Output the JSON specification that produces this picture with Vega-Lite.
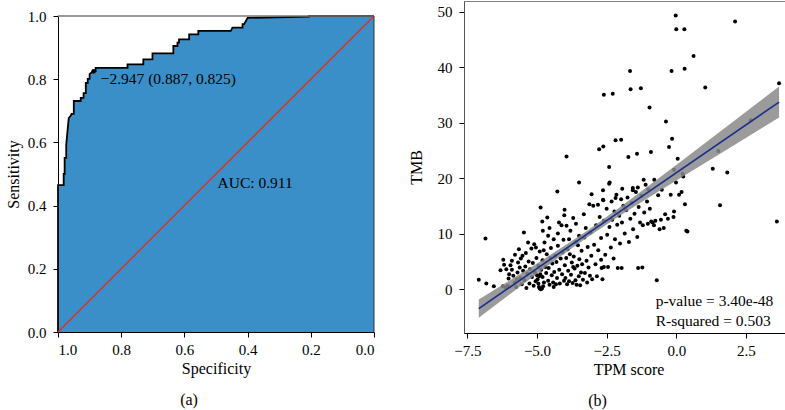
{
  "$schema": "https://vega.github.io/schema/vega-lite/v6.json",
  "background": "white",
  "padding": {"left": 5, "top": 0, "right": 1, "bottom": 0},
  "spacing": 90,
  "bounds": "flush",
  "config": {
    "font": "Liberation Serif",
    "view": {"stroke": null},
    "axis": {"labelFont": "Liberation Serif", "titleFont": "Liberation Serif", "labelFontSize": 15, "titleFontSize": 16, "titleFontWeight": "normal", "labelColor": "#000", "titleColor": "#000", "tickColor": "#000", "domainColor": "#000", "grid": false, "tickSize": 5, "labelPadding": 6},
    "title": {"font": "Liberation Serif", "fontSize": 16, "fontWeight": "normal", "color": "#000"}
  },
  "datasets": {
    "roc": [
      {"i": 0, "spec": 1.0, "sens": 0.0}, {"i": 1, "spec": 1.0, "sens": 0.465}, {"i": 2, "spec": 0.982, "sens": 0.465}, {"i": 3, "spec": 0.982, "sens": 0.5}, {"i": 4, "spec": 0.979, "sens": 0.5}, {"i": 5, "spec": 0.979, "sens": 0.551}, {"i": 6, "spec": 0.974, "sens": 0.551}, {"i": 7, "spec": 0.974, "sens": 0.592}, {"i": 8, "spec": 0.972, "sens": 0.614}, {"i": 9, "spec": 0.969, "sens": 0.646}, {"i": 10, "spec": 0.966, "sens": 0.677}, {"i": 11, "spec": 0.96, "sens": 0.684}, {"i": 12, "spec": 0.957, "sens": 0.69}, {"i": 13, "spec": 0.95, "sens": 0.69}, {"i": 14, "spec": 0.95, "sens": 0.731}, {"i": 15, "spec": 0.928, "sens": 0.731}, {"i": 16, "spec": 0.928, "sens": 0.741}, {"i": 17, "spec": 0.919, "sens": 0.741}, {"i": 18, "spec": 0.919, "sens": 0.756}, {"i": 19, "spec": 0.912, "sens": 0.756}, {"i": 20, "spec": 0.912, "sens": 0.788}, {"i": 21, "spec": 0.906, "sens": 0.788}, {"i": 22, "spec": 0.906, "sens": 0.801}, {"i": 23, "spec": 0.9, "sens": 0.801}, {"i": 24, "spec": 0.9, "sens": 0.816}, {"i": 25, "spec": 0.888, "sens": 0.826}, {"i": 26, "spec": 0.881, "sens": 0.826}, {"i": 27, "spec": 0.881, "sens": 0.836}, {"i": 28, "spec": 0.78, "sens": 0.836}, {"i": 29, "spec": 0.78, "sens": 0.847}, {"i": 30, "spec": 0.73, "sens": 0.847}, {"i": 31, "spec": 0.73, "sens": 0.863}, {"i": 32, "spec": 0.701, "sens": 0.863}, {"i": 33, "spec": 0.701, "sens": 0.882}, {"i": 34, "spec": 0.635, "sens": 0.882}, {"i": 35, "spec": 0.635, "sens": 0.905}, {"i": 36, "spec": 0.622, "sens": 0.905}, {"i": 37, "spec": 0.622, "sens": 0.916}, {"i": 38, "spec": 0.617, "sens": 0.916}, {"i": 39, "spec": 0.617, "sens": 0.926}, {"i": 40, "spec": 0.585, "sens": 0.926}, {"i": 41, "spec": 0.585, "sens": 0.942}, {"i": 42, "spec": 0.556, "sens": 0.942}, {"i": 43, "spec": 0.556, "sens": 0.953}, {"i": 44, "spec": 0.453, "sens": 0.953}, {"i": 45, "spec": 0.448, "sens": 0.963}, {"i": 46, "spec": 0.416, "sens": 0.963}, {"i": 47, "spec": 0.416, "sens": 0.974}, {"i": 48, "spec": 0.411, "sens": 0.974}, {"i": 49, "spec": 0.4, "sens": 0.994}, {"i": 50, "spec": 0.206, "sens": 0.998}, {"i": 51, "spec": 0.206, "sens": 1.0}, {"i": 52, "spec": 0.0, "sens": 1.0}
    ],
    "pts": [
      {"x": -7.09, "y": 1.7}, {"x": -6.85, "y": 9.1}, {"x": -6.82, "y": 1.0}, {"x": -6.55, "y": 0.5}, {"x": -6.31, "y": 3.4}, {"x": -6.21, "y": 5.3}, {"x": -6.18, "y": 4.4}, {"x": -6.22, "y": 0.5}, {"x": -6.13, "y": 0.3}, {"x": -6.05, "y": 0.6}, {"x": -6.0, "y": 2.7}, {"x": -6.1, "y": 3.6}, {"x": -6.02, "y": 1.9},
      {"x": -5.95, "y": 4.3}, {"x": -5.79, "y": 6.2}, {"x": -5.65, "y": 7.2}, {"x": -5.47, "y": 10.2}, {"x": -5.32, "y": 8.4}, {"x": -5.9, "y": 3.5}, {"x": -5.85, "y": 2.4}, {"x": -5.8, "y": 1.2}, {"x": -5.75, "y": 0.4}, {"x": -5.7, "y": 3.0}, {"x": -5.68, "y": 4.8}, {"x": -5.6, "y": 2.0}, {"x": -5.58, "y": 5.5}, {"x": -5.55, "y": 0.9}, {"x": -5.5, "y": 3.3}, {"x": -5.45, "y": 1.6}, {"x": -5.42, "y": 4.1}, {"x": -5.4, "y": 6.5}, {"x": -5.38, "y": 0.2}, {"x": -5.35, "y": 2.8}, {"x": -5.3, "y": 5.0}, {"x": -5.27, "y": 1.0}, {"x": -5.25, "y": 3.6}, {"x": -5.2, "y": 7.3}, {"x": -5.18, "y": 2.2}, {"x": -5.15, "y": 4.7}, {"x": -5.12, "y": 0.6}, {"x": -5.1, "y": 8.1}, {"x": -5.08, "y": 3.0}, {"x": -5.05, "y": 1.4}, {"x": -5.04, "y": 7.5}, {"x": -5.02, "y": 5.6}, {"x": -5.0, "y": 2.5}, {"x": -5.9, "y": 5.1}, {"x": -5.62, "y": 3.9}, {"x": -5.52, "y": 6.0}, {"x": -5.72, "y": 1.8},
      {"x": -4.98, "y": 1.8}, {"x": -4.95, "y": 1.0}, {"x": -4.93, "y": 0.4}, {"x": -4.9, "y": 0.1}, {"x": -4.86, "y": 0.0}, {"x": -4.82, "y": 0.1}, {"x": -4.78, "y": 0.5}, {"x": -4.75, "y": 1.2}, {"x": -4.92, "y": 2.3}, {"x": -4.88, "y": 2.7}, {"x": -4.8, "y": 2.2},
      {"x": -4.87, "y": 14.7}, {"x": -4.81, "y": 12.2}, {"x": -4.79, "y": 10.5}, {"x": -4.63, "y": 12.9}, {"x": -4.73, "y": 8.4}, {"x": -4.95, "y": 4.2}, {"x": -4.9, "y": 6.8}, {"x": -4.85, "y": 3.5}, {"x": -4.8, "y": 5.2}, {"x": -4.76, "y": 7.0}, {"x": -4.7, "y": 4.0}, {"x": -4.67, "y": 2.9}, {"x": -4.65, "y": 6.3}, {"x": -4.6, "y": 1.5}, {"x": -4.58, "y": 3.8}, {"x": -4.55, "y": 0.8}, {"x": -4.52, "y": 5.6}, {"x": -4.5, "y": 7.4}, {"x": -4.47, "y": 2.5}, {"x": -4.45, "y": 4.6}, {"x": -4.42, "y": 1.2}, {"x": -4.4, "y": 9.0}, {"x": -4.38, "y": 3.1}, {"x": -4.35, "y": 6.0}, {"x": -4.32, "y": 0.9}, {"x": -4.3, "y": 4.9}, {"x": -4.28, "y": 2.0}, {"x": -4.27, "y": 17.6}, {"x": -4.25, "y": 7.8}, {"x": -4.21, "y": 12.0}, {"x": -4.2, "y": 3.5}, {"x": -4.18, "y": 1.0}, {"x": -4.15, "y": 5.5}, {"x": -4.12, "y": 11.5}, {"x": -4.1, "y": 2.7}, {"x": -4.08, "y": 6.6}, {"x": -4.05, "y": 8.9}, {"x": -4.03, "y": 1.5}, {"x": -4.01, "y": 14.3}, {"x": -4.02, "y": 13.3}, {"x": -4.0, "y": 4.3}, {"x": -4.6, "y": 9.6}, {"x": -4.4, "y": 0.4}, {"x": -4.55, "y": 11.0}, {"x": -4.25, "y": 10.0},
      {"x": -3.94, "y": 11.4}, {"x": -3.94, "y": 23.9}, {"x": -3.53, "y": 7.9}, {"x": -3.49, "y": 9.6}, {"x": -3.49, "y": 19.2}, {"x": -3.98, "y": 2.0}, {"x": -3.95, "y": 5.6}, {"x": -3.92, "y": 0.9}, {"x": -3.9, "y": 7.2}, {"x": -3.88, "y": 3.3}, {"x": -3.85, "y": 1.4}, {"x": -3.82, "y": 6.3}, {"x": -3.8, "y": 10.5}, {"x": -3.78, "y": 2.6}, {"x": -3.75, "y": 4.8}, {"x": -3.72, "y": 1.1}, {"x": -3.7, "y": 12.8}, {"x": -3.68, "y": 5.9}, {"x": -3.65, "y": 3.7}, {"x": -3.62, "y": 1.6}, {"x": -3.6, "y": 8.5}, {"x": -3.58, "y": 0.8}, {"x": -3.55, "y": 4.2}, {"x": -3.5, "y": 2.3}, {"x": -3.48, "y": 5.4}, {"x": -3.45, "y": 0.7}, {"x": -3.42, "y": 3.0}, {"x": -3.4, "y": 6.9}, {"x": -3.38, "y": 4.5}, {"x": -3.35, "y": 1.7}, {"x": -3.32, "y": 13.5}, {"x": -3.3, "y": 9.3}, {"x": -3.28, "y": 2.9}, {"x": -3.25, "y": 11.0}, {"x": -3.22, "y": 5.1}, {"x": -3.2, "y": 1.2}, {"x": -3.18, "y": 7.6}, {"x": -3.15, "y": 3.9}, {"x": -3.12, "y": 15.3}, {"x": -3.1, "y": 2.4}, {"x": -3.08, "y": 10.2}, {"x": -3.05, "y": 6.0}, {"x": -3.04, "y": 17.1}, {"x": -3.02, "y": 1.8}, {"x": -3.7, "y": 4.0}, {"x": -3.6, "y": 11.8}, {"x": -3.85, "y": 9.0},
      {"x": -2.98, "y": 15.0}, {"x": -2.81, "y": 15.2}, {"x": -2.77, "y": 25.2}, {"x": -2.62, "y": 25.7}, {"x": -2.6, "y": 35.0}, {"x": -2.28, "y": 35.2}, {"x": -2.41, "y": 22.0}, {"x": -2.41, "y": 19.0}, {"x": -2.63, "y": 17.8}, {"x": -2.18, "y": 26.8}, {"x": -2.62, "y": 16.0}, {"x": -2.39, "y": 19.2}, {"x": -2.18, "y": 16.4}, {"x": -2.63, "y": 16.1}, {"x": -2.95, "y": 8.0}, {"x": -2.9, "y": 4.5}, {"x": -2.88, "y": 11.5}, {"x": -2.85, "y": 2.3}, {"x": -2.8, "y": 7.0}, {"x": -2.75, "y": 13.0}, {"x": -2.7, "y": 9.2}, {"x": -2.68, "y": 3.8}, {"x": -2.65, "y": 1.8}, {"x": -2.6, "y": 12.3}, {"x": -2.55, "y": 6.2}, {"x": -2.5, "y": 14.5}, {"x": -2.48, "y": 9.8}, {"x": -2.45, "y": 4.0}, {"x": -2.4, "y": 11.2}, {"x": -2.35, "y": 7.5}, {"x": -2.32, "y": 15.8}, {"x": -2.3, "y": 12.5}, {"x": -2.25, "y": 5.5}, {"x": -2.22, "y": 14.0}, {"x": -2.2, "y": 9.0}, {"x": -2.15, "y": 17.0}, {"x": -2.12, "y": 11.6}, {"x": -2.1, "y": 3.8}, {"x": -2.05, "y": 13.2}, {"x": -2.02, "y": 8.2}, {"x": -2.6, "y": 4.0}, {"x": -2.7, "y": 5.3},
      {"x": -1.98, "y": 26.9}, {"x": -1.66, "y": 39.3}, {"x": -1.64, "y": 36.0}, {"x": -1.27, "y": 36.2}, {"x": -1.72, "y": 23.8}, {"x": -1.41, "y": 24.4}, {"x": -1.94, "y": 18.1}, {"x": -1.56, "y": 18.2}, {"x": -1.56, "y": 17.8}, {"x": -1.38, "y": 18.3}, {"x": -1.17, "y": 19.7}, {"x": -1.98, "y": 16.2}, {"x": -1.96, "y": 3.8}, {"x": -1.95, "y": 12.0}, {"x": -1.9, "y": 15.0}, {"x": -1.85, "y": 10.0}, {"x": -1.8, "y": 14.2}, {"x": -1.75, "y": 16.5}, {"x": -1.7, "y": 8.5}, {"x": -1.65, "y": 12.7}, {"x": -1.6, "y": 15.5}, {"x": -1.55, "y": 10.8}, {"x": -1.5, "y": 13.6}, {"x": -1.45, "y": 17.5}, {"x": -1.4, "y": 9.4}, {"x": -1.35, "y": 14.8}, {"x": -1.3, "y": 12.0}, {"x": -1.25, "y": 16.8}, {"x": -1.22, "y": 3.9}, {"x": -1.37, "y": 3.8}, {"x": -1.2, "y": 11.5}, {"x": -1.15, "y": 13.8}, {"x": -1.1, "y": 18.8}, {"x": -1.05, "y": 15.8}, {"x": -1.02, "y": 11.8},
      {"x": -0.96, "y": 32.7}, {"x": -0.91, "y": 24.7}, {"x": -0.79, "y": 19.7}, {"x": -1.01, "y": 18.0}, {"x": -0.52, "y": 17.9}, {"x": -0.37, "y": 30.2}, {"x": -0.26, "y": 25.6}, {"x": -0.15, "y": 27.1}, {"x": -0.17, "y": 39.3}, {"x": -0.02, "y": 49.3}, {"x": 0.0, "y": 46.8}, {"x": 0.29, "y": 46.8}, {"x": 0.62, "y": 42.0}, {"x": 0.3, "y": 39.7}, {"x": 0.05, "y": 23.5}, {"x": -0.08, "y": 21.5}, {"x": -0.01, "y": 19.2}, {"x": 0.23, "y": 20.8}, {"x": 0.25, "y": 20.3}, {"x": 0.19, "y": 17.5}, {"x": -0.2, "y": 17.0}, {"x": -0.65, "y": 16.9}, {"x": -0.7, "y": 1.6}, {"x": 0.4, "y": 10.4}, {"x": -0.08, "y": 14.0}, {"x": 0.31, "y": 15.3}, {"x": -0.9, "y": 12.2}, {"x": -0.85, "y": 12.0}, {"x": -0.8, "y": 11.5}, {"x": -0.75, "y": 12.3}, {"x": -0.6, "y": 10.8}, {"x": -0.55, "y": 12.5}, {"x": -0.45, "y": 11.0}, {"x": -0.4, "y": 13.5}, {"x": -0.3, "y": 12.7}, {"x": -0.95, "y": 14.5}, {"x": -0.1, "y": 13.0}, {"x": 0.1, "y": 17.0},
      {"x": 1.04, "y": 36.3}, {"x": 1.31, "y": 21.7}, {"x": 1.51, "y": 24.9}, {"x": 1.83, "y": 21.0}, {"x": 2.11, "y": 48.2}, {"x": 2.67, "y": 30.4}, {"x": 3.69, "y": 37.1}, {"x": 3.61, "y": 12.2}, {"x": 1.57, "y": 15.1}, {"x": 0.36, "y": 10.5}
    ],
    "band": [
      {"x": -7.09, "lo": -5.15, "hi": -1.85}, {"x": -6.0, "lo": -1.0, "hi": 1.52}, {"x": -5.0, "lo": 2.78, "hi": 4.64}, {"x": -4.0, "lo": 6.48, "hi": 7.84}, {"x": -3.2, "lo": 9.32, "hi": 10.52}, {"x": -2.0, "lo": 13.29, "hi": 14.83}, {"x": -1.0, "lo": 16.45, "hi": 18.57}, {"x": 0.0, "lo": 19.55, "hi": 22.37}, {"x": 1.0, "lo": 22.64, "hi": 26.18}, {"x": 2.0, "lo": 25.71, "hi": 30.01}, {"x": 3.69, "lo": 30.9, "hi": 36.5}
    ],
    "fit": [{"x": -7.09, "y": -3.5}, {"x": 3.69, "y": 33.7}],
    "stats": [{"x": -0.74, "y": -2.1, "t": "p-value = 3.40e-48"}, {"x": -0.74, "y": -5.7, "t": "R-squared = 0.503"}]
  },
  "hconcat": [
    {
      "width": 316,
      "height": 331,
      "title": {"text": "(a)", "orient": "bottom", "anchor": "middle", "dx": -27, "offset": 16},
      "layer": [
        {
          "data": {"name": "roc"},
          "mark": {"type": "area", "fill": "#3b8fc8", "fillOpacity": 1, "stroke": null},
          "encoding": {
            "x": {"field": "spec", "type": "quantitative", "scale": {"domain": [0, 1], "reverse": true, "nice": false, "zero": false},
              "axis": {"title": "Specificity", "values": [1, 0.8, 0.6, 0.4, 0.2, 0], "format": ".1f", "labelPadding": 5, "titlePadding": 3}},
            "y": {"field": "sens", "type": "quantitative", "scale": {"domain": [0, 1], "range": [331, 15], "nice": false, "zero": false},
              "axis": {"title": "Sensitivity", "values": [0, 0.2, 0.4, 0.6, 0.8, 1], "format": ".1f", "labelPadding": 7, "titleX": -45, "titleBaseline": "middle", "titleAngle": 270}},
            "y2": {"datum": 0},
            "order": {"value": null}
          }
        },
        {
          "data": {"name": "roc"},
          "mark": {"type": "line", "stroke": "#000", "strokeWidth": 1.8},
          "encoding": {
            "x": {"field": "spec", "type": "quantitative"},
            "y": {"field": "sens", "type": "quantitative"},
            "order": {"field": "i", "type": "quantitative"}
          }
        },
        {
          "data": {"values": [{}]},
          "mark": {"type": "rule", "stroke": "#f0281a", "strokeWidth": 1.3},
          "encoding": {"x": {"datum": 1}, "y": {"datum": 0}, "x2": {"datum": 0}, "y2": {"datum": 1}}
        },
        {
          "data": {"values": [{}]},
          "mark": {"type": "rule", "stroke": "#777", "strokeWidth": 1.5},
          "encoding": {"x": {"datum": 1}, "x2": {"datum": 0}, "y": {"datum": 1}}
        },
        {
          "data": {"values": [{}]},
          "mark": {"type": "rule", "stroke": "#333", "strokeWidth": 1},
          "encoding": {"x": {"datum": 0}, "y": {"datum": 0}, "y2": {"datum": 1}}
        },
        {
          "data": {"values": [{"spec": 0.887, "sens": 0.825}]},
          "mark": {"type": "point", "filled": true, "color": "#000", "size": 22, "opacity": 1},
          "encoding": {"x": {"field": "spec", "type": "quantitative"}, "y": {"field": "sens", "type": "quantitative"}}
        },
        {
          "data": {"values": [{"spec": 0.865, "sens": 0.8, "t": "\u22122.947 (0.887, 0.825)"}, {"spec": 0.495, "sens": 0.472, "t": "AUC: 0.911"}]},
          "mark": {"type": "text", "align": "left", "baseline": "middle", "font": "Liberation Serif", "fontSize": 15.5, "color": "#000"},
          "encoding": {"x": {"field": "spec", "type": "quantitative"}, "y": {"field": "sens", "type": "quantitative"}, "text": {"field": "t"}}
        }
      ]
    },
    {
      "width": 329,
      "height": 332,
      "view": {"stroke": "#808080", "strokeWidth": 1},
      "title": {"text": "(b)", "orient": "bottom", "anchor": "middle", "dx": -31, "offset": 16},
      "layer": [
        {
          "data": {"name": "pts"},
          "mark": {"type": "circle", "color": "#000", "size": 16, "opacity": 1},
          "encoding": {
            "x": {"field": "x", "type": "quantitative", "scale": {"domain": [-7.62, 4.19], "nice": false, "zero": false},
              "axis": {"title": "TPM score", "values": [-7.5, -5, -2.5, 0, 2.5], "format": ".1f", "labelPadding": 5, "titlePadding": 3}},
            "y": {"field": "y", "type": "quantitative", "scale": {"domain": [-7.9, 51.9], "nice": false, "zero": false},
              "axis": {"title": "TMB", "values": [0, 10, 20, 30, 40, 50], "format": "d", "labelPadding": 7, "titleX": -48, "titleBaseline": "middle", "titleAngle": 270, "domainColor": "#555"}}
          }
        },
        {
          "data": {"name": "band"},
          "mark": {"type": "area", "fill": "#8a8a8a", "fillOpacity": 0.85, "stroke": null},
          "encoding": {
            "x": {"field": "x", "type": "quantitative"},
            "y": {"field": "lo", "type": "quantitative"},
            "y2": {"field": "hi"}
          }
        },
        {
          "data": {"name": "fit"},
          "mark": {"type": "line", "stroke": "#17308c", "strokeWidth": 1.6},
          "encoding": {
            "x": {"field": "x", "type": "quantitative"},
            "y": {"field": "y", "type": "quantitative"}
          }
        },
        {
          "data": {"name": "stats"},
          "mark": {"type": "text", "align": "left", "baseline": "middle", "font": "Liberation Serif", "fontSize": 15.5, "color": "#000"},
          "encoding": {"x": {"field": "x", "type": "quantitative"}, "y": {"field": "y", "type": "quantitative"}, "text": {"field": "t"}}
        }
      ]
    }
  ]
}
